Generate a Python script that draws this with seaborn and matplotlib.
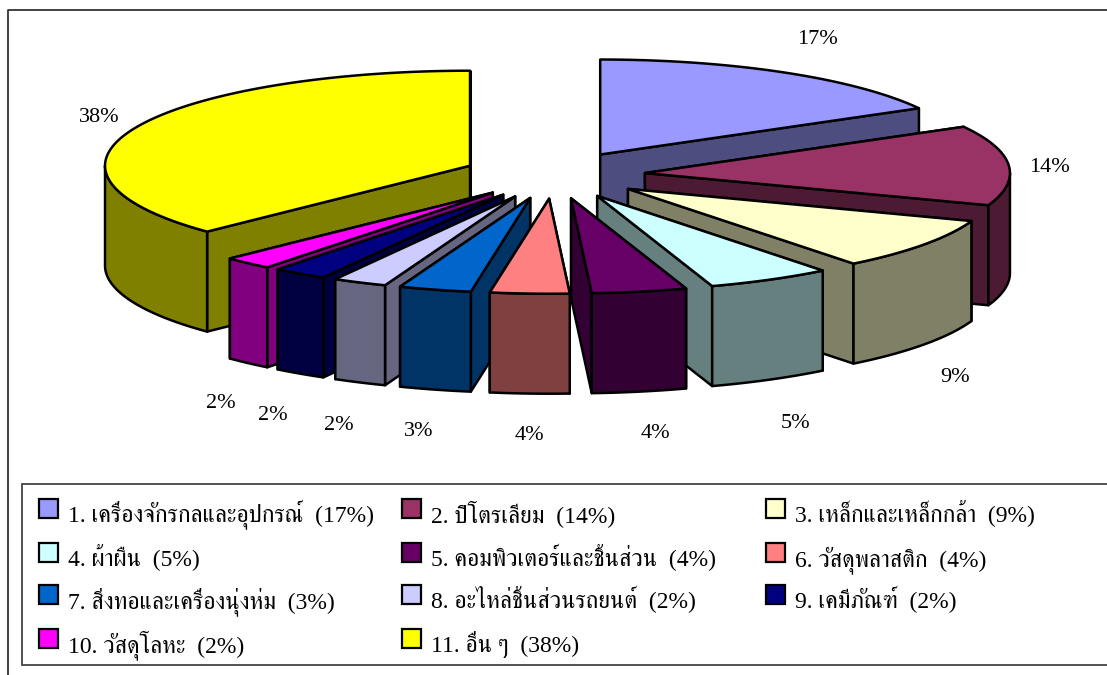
#!/usr/bin/env python3
"""Exploded 3D pie of export shares, with a boxed legend below it."""

import matplotlib

matplotlib.use("Agg")

import matplotlib.pyplot as plt
import numpy as np
import seaborn as sns
from matplotlib.patches import Polygon, Rectangle

CATEGORIES = [
    "เครื่องจักรกลและอุปกรณ์",
    "ปิโตรเลียม",
    "เหล็กและเหล็กกล้า",
    "ผ้าผืน",
    "คอมพิวเตอร์และชิ้นส่วน",
    "วัสดุพลาสติก",
    "สิ่งทอและเครื่องนุ่งห่ม",
    "อะไหล่ชิ้นส่วนรถยนต์",
    "เคมีภัณฑ์",
    "วัสดุโลหะ",
    "อื่น ๆ",
]
SHARES = [16.9, 13.6, 8.9, 5.5, 4.2, 3.5, 3.2, 2.4, 2.4, 2.2, 37.2]
SHARE_LABELS = ["17%", "14%", "9%", "5%", "4%", "4%", "3%", "2%", "2%", "2%", "38%"]
TOP_COLORS = [
    "#9999FF", "#993366", "#FFFFCC", "#CCFFFF", "#660066", "#FF8080",
    "#0066CC", "#CCCCFF", "#000080", "#FF00FF", "#FFFF00",
]

W, H = 1107, 675
CX, CY = 554, 175
RX, RY = 365, 95
DEPTH = 100
EXPLODE = 0.25
FONT = ["Liberation Serif", "FreeSerif", "Loma"]

LABEL_XY = [
    (817, 40), (1049, 167), (955, 378), (795, 423), (655, 434), (529, 436),
    (419, 432), (339, 426), (273, 416), (221, 404), (99, 118),
]
LEGEND_COLS = [39, 402, 766]
LEGEND_ROWS = [499, 543, 585, 629]


def rim(apex, angles):
    """Points on the top ellipse; angles run clockwise from 12 o'clock."""
    return np.column_stack(
        [apex[0] + RX * np.sin(angles), apex[1] - RY * np.cos(angles)]
    )


def draw_slice(ax, start, end, top, side):
    mid = (start + end) / 2
    apex = (
        CX + EXPLODE * RX * np.sin(mid),
        CY - EXPLODE * RY * np.cos(mid),
    )
    style = {"edgecolor": "black", "linewidth": 1.8, "joinstyle": "round"}
    down = np.array([0, DEPTH])

    # radial cut faces, the one further back first
    faces = []
    for angle in (start, end):
        outer = rim(apex, np.array([angle]))[0]
        faces.append((outer[1], outer))
    for _, outer in sorted(faces, key=lambda f: f[0]):
        a = np.array(apex)
        ax.add_patch(Polygon([a, outer, outer + down, a + down], facecolor=side, **style))

    # curved wall, only the part that faces the viewer
    lo, hi = max(start, np.pi / 2), min(end, 3 * np.pi / 2)
    if hi > lo:
        arc = rim(apex, np.linspace(lo, hi, 60))
        ax.add_patch(Polygon(np.vstack([arc, arc[::-1] + down]), facecolor=side, **style))

    arc = rim(apex, np.linspace(start, end, 120))
    ax.add_patch(Polygon(np.vstack([[apex], arc]), facecolor=top, **style))


def main():
    sns.set_theme(style="white")
    plt.rcParams["font.family"] = FONT

    tops = sns.color_palette(TOP_COLORS)
    sides = [tuple(c / 2 for c in color) for color in tops]

    fig = plt.figure(figsize=(W / 100, H / 100), dpi=100)
    ax = fig.add_axes([0, 0, 1, 1])
    ax.set_xlim(0, W)
    ax.set_ylim(H, 0)
    ax.axis("off")

    # chart frame and legend box run off the right edge
    ax.plot([W + 5, 7.5, 7.5], [9.5, 9.5, H + 5], color="#333333", lw=1.3)
    ax.add_patch(Rectangle((22, 483.5), W, 181.5, facecolor="white", edgecolor="#444444", lw=1.3))

    edges = np.deg2rad(np.cumsum([0] + SHARES) * 3.6)
    right = [i for i in range(len(SHARES)) if (edges[i] + edges[i + 1]) / 2 < np.pi]
    left = [i for i in range(len(SHARES)) if i not in right]
    for i in right + left[::-1]:
        draw_slice(ax, edges[i], edges[i + 1], tops[i], sides[i])

    for (x, y), label in zip(LABEL_XY, SHARE_LABELS):
        ax.text(x, y, label, ha="center", va="center", fontsize=16, color="black")

    for i, (name, label) in enumerate(zip(CATEGORIES, SHARE_LABELS)):
        row, col = divmod(i, 3)
        x, y = LEGEND_COLS[col], LEGEND_ROWS[row]
        ax.add_patch(Rectangle((x, y), 19, 19, facecolor=tops[i], edgecolor="black", lw=1.6))
        ax.text(x + 29, y + 23, f"{i + 1}. {name}  ({label})", va="baseline", fontsize=17, color="black")

    fig.savefig("out.png", dpi=100)
    plt.close(fig)


if __name__ == "__main__":
    main()
